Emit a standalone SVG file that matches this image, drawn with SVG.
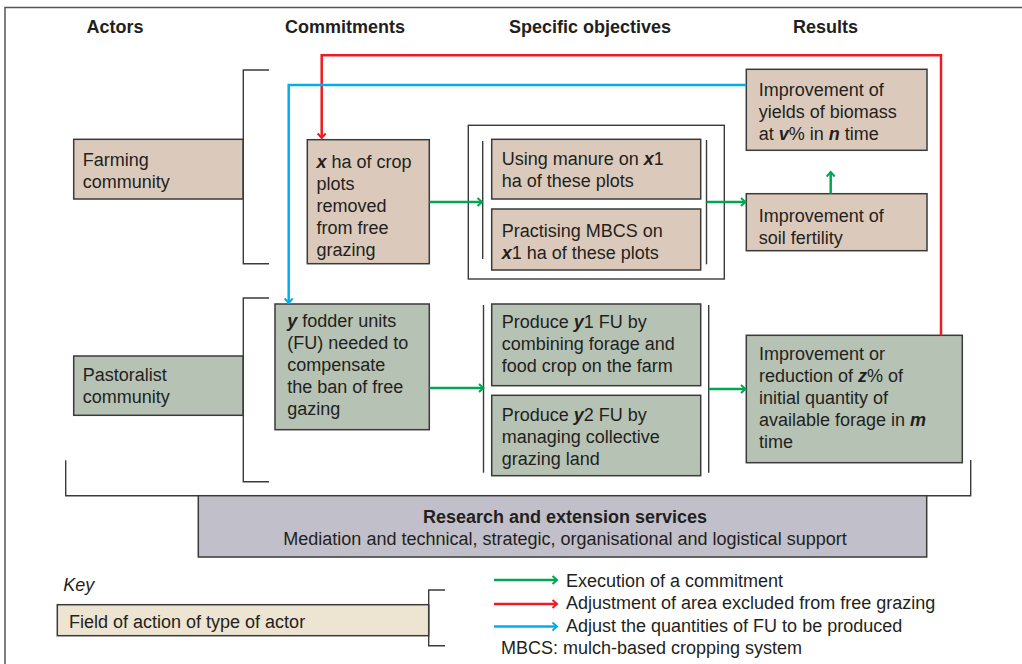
<svg xmlns="http://www.w3.org/2000/svg" width="1022" height="664" viewBox="0 0 1022 664">
<style>
text{font-family:"Liberation Sans",Arial,sans-serif;fill:#231f20;}
.h{font-size:18px;font-weight:bold;text-anchor:middle;}
.t{font-size:18px;}
.s{font-size:18px;}
.v{font-weight:bold;font-style:italic;}
.box{stroke:#3a3a3a;stroke-width:1.5;}
.tan{fill:#dbcabb;}
.sage{fill:#b6c2b4;}
.ln{fill:none;stroke:#3a3a3a;stroke-width:1.4;}
.g{fill:none;stroke:#00a651;stroke-width:2.5;marker-end:url(#ag);}
.r{fill:none;stroke:#ed1c24;stroke-width:2.5;marker-end:url(#ar);}
.b{fill:none;stroke:#00aeef;stroke-width:2.5;marker-end:url(#ab);}
</style>
<defs>
<marker id="ag" markerWidth="10" markerHeight="10" refX="8" refY="5" orient="auto" markerUnits="userSpaceOnUse"><path d="M3.5,1 L8,5 L3.5,9" fill="none" stroke="#00a651" stroke-width="2"/></marker>
<marker id="ar" markerWidth="10" markerHeight="10" refX="8" refY="5" orient="auto" markerUnits="userSpaceOnUse"><path d="M3.5,1 L8,5 L3.5,9" fill="none" stroke="#ed1c24" stroke-width="2"/></marker>
<marker id="ab" markerWidth="10" markerHeight="10" refX="8" refY="5" orient="auto" markerUnits="userSpaceOnUse"><path d="M3.5,1 L8,5 L3.5,9" fill="none" stroke="#00aeef" stroke-width="2"/></marker>
</defs>
<rect width="1022" height="664" fill="#fff"/>
<path d="M5,664 V7.5 H1022" fill="none" stroke="#555" stroke-width="1.5"/>

<g id="headers">
<text class="h" x="115" y="33">Actors</text>
<text class="h" x="345" y="33">Commitments</text>
<text class="h" x="590" y="33">Specific objectives</text>
<text class="h" x="825.5" y="33">Results</text>
</g>

<g id="brackets">
<path class="ln" d="M269,70 H243.3 V263.7 H269"/>
<path class="ln" d="M269,298 H243.3 V481.7 H269"/>
<rect class="ln" x="468.3" y="125.3" width="256" height="153.7"/>
<path class="ln" d="M482.7,141 V259"/>
<path class="ln" d="M706.5,140 V264.3"/>
<path class="ln" d="M483.5,305 V472.7"/>
<path class="ln" d="M708.7,305 V472.7"/>
<path class="ln" d="M65.7,460.3 V495.7 H970.7 V460"/>
<path class="ln" d="M445,590 H428.7 V645.7 H445"/>
</g>

<g id="farming">
<rect class="box tan" x="73.7" y="139.3" width="169.3" height="59.7"/>
<text class="t" x="82.7" y="166">Farming</text>
<text class="t" x="82.7" y="188">community</text>
</g>

<g id="pastoralist">
<rect class="box sage" x="73.7" y="356" width="169.3" height="59.3"/>
<text class="t" x="82.7" y="381">Pastoralist</text>
<text class="t" x="82.7" y="403">community</text>
</g>

<g id="xha">
<rect class="box tan" x="307.3" y="139.7" width="122" height="124"/>
<text class="t" x="316.5" y="168"><tspan class="v">x</tspan> ha of crop</text>
<text class="t" x="316.5" y="190">plots</text>
<text class="t" x="316.5" y="212">removed</text>
<text class="t" x="316.5" y="234">from free</text>
<text class="t" x="316.5" y="256">grazing</text>
</g>

<g id="yfodder">
<rect class="box sage" x="275" y="304" width="154.3" height="125.7"/>
<text class="t" x="287.3" y="327"><tspan class="v">y</tspan> fodder units</text>
<text class="t" x="287.3" y="349">(FU) needed to</text>
<text class="t" x="287.3" y="371">compensate</text>
<text class="t" x="287.3" y="393">the ban of free</text>
<text class="t" x="287.3" y="415">gazing</text>
</g>

<g id="manure">
<rect class="box tan" x="491.7" y="139.3" width="209" height="59.7"/>
<text class="t" x="501.7" y="165">Using manure on <tspan class="v">x</tspan>1</text>
<text class="t" x="501.7" y="187">ha of these plots</text>
</g>

<g id="mbcs">
<rect class="box tan" x="491.7" y="209" width="209" height="61"/>
<text class="t" x="501.7" y="237">Practising MBCS on</text>
<text class="t" x="501.7" y="259"><tspan class="v">x</tspan>1 ha of these plots</text>
</g>

<g id="y1">
<rect class="box sage" x="491.7" y="304" width="209" height="81.7"/>
<text class="t" x="501.7" y="328">Produce <tspan class="v">y</tspan>1 FU by</text>
<text class="t" x="501.7" y="350">combining forage and</text>
<text class="t" x="501.7" y="372">food crop on the farm</text>
</g>

<g id="y2">
<rect class="box sage" x="491.7" y="395.3" width="209" height="80.4"/>
<text class="t" x="501.7" y="421">Produce <tspan class="v">y</tspan>2 FU by</text>
<text class="t" x="501.7" y="443">managing collective</text>
<text class="t" x="501.7" y="465">grazing land</text>
</g>

<g id="yields">
<rect class="box tan" x="746.3" y="69.3" width="180.7" height="81"/>
<text class="t" x="758.7" y="96">Improvement of</text>
<text class="t" x="758.7" y="118">yields of biomass</text>
<text class="t" x="758.7" y="140">at <tspan class="v">v</tspan>% in <tspan class="v">n</tspan> time</text>
</g>

<g id="soil">
<rect class="box tan" x="746.3" y="193.7" width="180.7" height="57"/>
<text class="t" x="758.7" y="222">Improvement of</text>
<text class="t" x="758.7" y="244">soil fertility</text>
</g>

<g id="forage">
<rect class="box sage" x="746.3" y="335.3" width="216" height="127.4"/>
<text class="t" x="759" y="360">Improvement or</text>
<text class="t" x="759" y="382">reduction of <tspan class="v">z</tspan>% of</text>
<text class="t" x="759" y="404">initial quantity of</text>
<text class="t" x="759" y="426">available forage in <tspan class="v">m</tspan></text>
<text class="t" x="759" y="448">time</text>
</g>

<g id="research">
<rect class="box" fill="#c1bfc9" x="198.3" y="495.7" width="728.4" height="61.3"/>
<text class="s" x="565" y="522.5" text-anchor="middle" font-weight="bold">Research and extension services</text>
<text class="s" x="565" y="544.5" text-anchor="middle">Mediation and technical, strategic, organisational and logistical support</text>
</g>

<g id="connectors">
<path class="r" d="M941,335.3 V55.3 H321.7 V138"/>
<path class="b" d="M746.3,85 H288.7 V303"/>
<path class="g" d="M429.3,202 H482"/>
<path class="g" d="M706.5,202 H745.5"/>
<path class="g" d="M830.7,193.7 V172"/>
<path class="g" d="M429.3,388 H483.5"/>
<path class="g" d="M708.7,389 H745.5"/>
</g>

<g id="key">
<text class="t" x="63.3" y="591" font-style="italic">Key</text>
<rect class="box" fill="#ede4d2" x="57.3" y="604.7" width="371.4" height="31"/>
<text class="t" x="69" y="628">Field of action of type of actor</text>
<path class="g" d="M494,580 H557"/>
<path class="r" d="M494,604 H557"/>
<path class="b" d="M494,626.5 H557"/>
<text class="s" x="566" y="586.5">Execution of a commitment</text>
<text class="s" x="566" y="609">Adjustment of area excluded from free grazing</text>
<text class="s" x="566" y="631.5">Adjust the quantities of FU to be produced</text>
<text class="s" x="501" y="653.5">MBCS: mulch-based cropping system</text>
</g>
</svg>
